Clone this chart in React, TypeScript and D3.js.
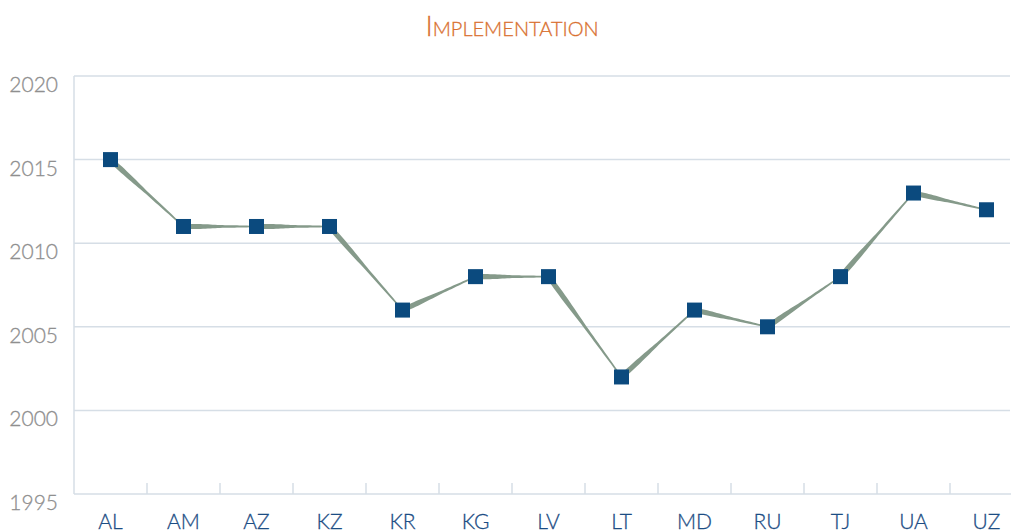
import React from "react";
import * as d3 from "d3";

const title = "Implementation";
const categories = ["AL", "AM", "AZ", "KZ", "KR", "KG", "LV", "LT", "MD", "RU", "TJ", "UA", "UZ"];
const values = [2015, 2011, 2011, 2011, 2006, 2008, 2008, 2002, 2006, 2005, 2008, 2013, 2012];
const yTicks = [1995, 2000, 2005, 2010, 2015, 2020];

const W = 1011;
const H = 532;
const left = 74;
const top = 76;
const bottom = 494;
const FONT = "Lato, 'Open Sans', sans-serif";

export default function App() {
  const x = d3.scaleBand<string>().domain(categories).range([left, left + 73 * categories.length]).padding(0);
  const y = d3.scaleLinear().domain([1995, 2020]).range([bottom, top]);
  const cx = (c: string) => (x(c) as number) + x.bandwidth() / 2;

  const pts = categories.map((c, i) => [cx(c), y(values[i])] as [number, number]);

  const ribbons: string[] = [];
  for (let i = 0; i < pts.length - 1; i++) {
    const [x0, y0] = pts[i];
    const [x1, y1] = pts[i + 1];
    const dx = x1 - x0, dy = y1 - y0;
    const len = Math.hypot(dx, dy);
    const nx = -dy / len, ny = dx / len;
    const n = 30;
    const upper: [number, number][] = [];
    const lower: [number, number][] = [];
    for (let k = 0; k <= n; k++) {
      const t = k / n;
      const w = 1.0 + 4.6 * Math.pow(1 - t, 0.6) * (0.6 + 0.4 * Math.sin(Math.PI * Math.min(1, t * 1.6 + 0.2)));
      const px = x0 + dx * t, py = y0 + dy * t;
      upper.push([px + nx * w / 2, py + ny * w / 2]);
      lower.push([px - nx * w / 2, py - ny * w / 2]);
    }
    const poly = upper.concat(lower.reverse());
    ribbons.push("M" + poly.map((p) => p[0].toFixed(2) + "," + p[1].toFixed(2)).join("L") + "Z");
  }

  const gridColor = "#d6dee6";
  const boundaries = categories.slice(1).map((c) => x(c) as number);

  return (
    <svg width={W} height={H} style={{ position: "absolute", left: 0, top: 0, background: "#fff" }}>
      <text x={512} y={36} textAnchor="middle" fontFamily={FONT} fontWeight={300} fontSize={28} fill="#d9702f" stroke="#d9702f" strokeWidth={0.3} style={{ fontVariant: "small-caps" }}>
        {title}
      </text>
      {yTicks.filter((t) => t > 1995).map((t) => (
        <line key={t} x1={left} x2={1010} y1={y(t)} y2={y(t)} stroke={gridColor} strokeWidth={1.5} />
      ))}
      <line x1={left} x2={left} y1={top} y2={bottom} stroke={gridColor} strokeWidth={1.5} />
      <line x1={left} x2={1011} y1={bottom} y2={bottom} stroke={gridColor} strokeWidth={1.5} />
      {boundaries.map((b, i) => (
        <line key={i} x1={b} x2={b} y1={bottom} y2={bottom - 11} stroke={gridColor} strokeWidth={1.5} />
      ))}
      {yTicks.map((t) => (
        <text key={t} x={58} y={y(t) + 16} textAnchor="end" fontFamily={FONT} fontWeight={300} fontSize={21} fill="#8f8f8f" stroke="#8f8f8f" strokeWidth={0.3}>
          {t}
        </text>
      ))}
      {categories.map((c) => (
        <text key={c} x={cx(c)} y={529} textAnchor="middle" fontFamily={FONT} fontWeight={300} fontSize={21} fill="#1c4d84" stroke="#1c4d84" strokeWidth={0.3}>
          {c}
        </text>
      ))}
      {ribbons.map((d, i) => (
        <path key={i} d={d} fill="#859a8a" />
      ))}
      {pts.map((p, i) => (
        <rect key={i} x={p[0] - 7.5} y={p[1] - 7.5} width={15} height={15} fill="#0b4a7e" />
      ))}
    </svg>
  );
}
